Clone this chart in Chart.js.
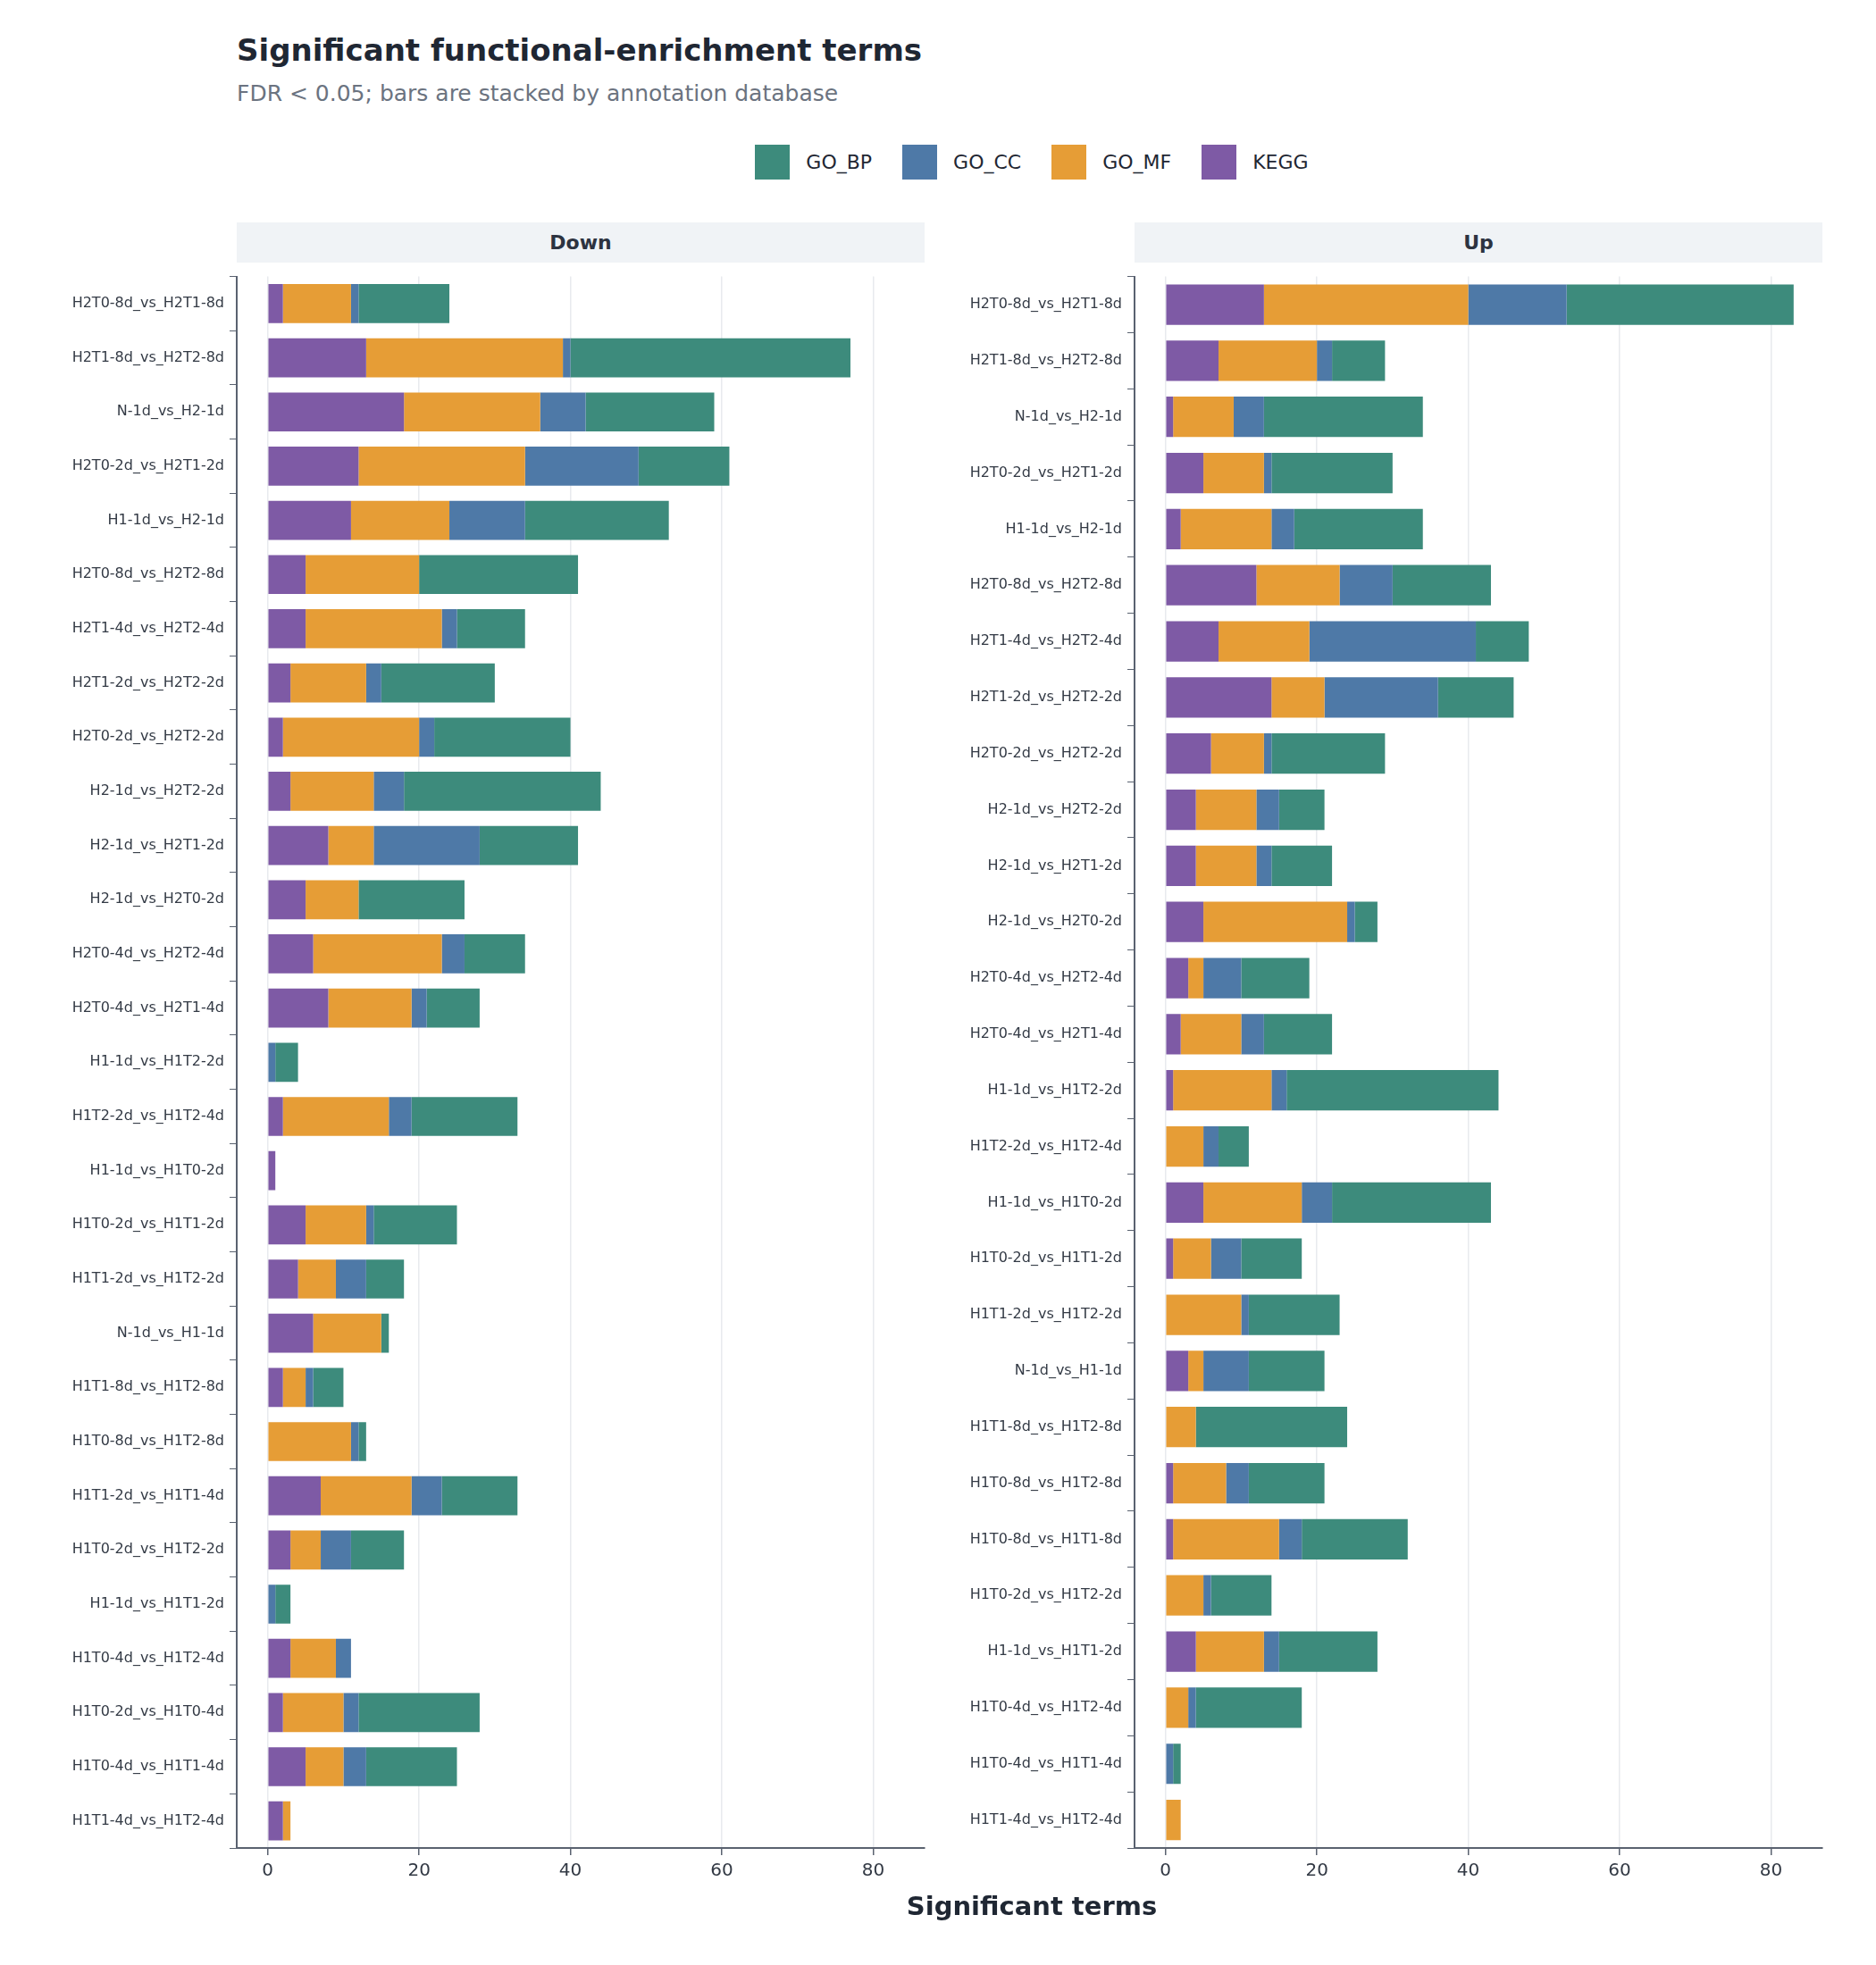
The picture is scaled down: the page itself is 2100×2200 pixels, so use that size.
<!DOCTYPE html>
<html><head><meta charset="utf-8">
<script src="https://cdn.jsdelivr.net/npm/chart.js@4/dist/chart.umd.min.js"></script>
<style>
body{margin:0;background:#fff;font-family:"DejaVu Sans",sans-serif;}
#wrap{position:relative;width:2100px;height:2200px;background:#fff;}
.abs{position:absolute;}
#title{left:265px;top:36px;font-size:34px;font-weight:bold;color:#1f2733;}
#sub{left:265px;top:90px;font-size:25px;color:#6b7380;}
#legend{left:0;width:2310px;top:162px;display:flex;justify-content:center;gap:34px;font-size:22px;color:#1f2733;}
#legend div{display:flex;align-items:center;gap:18px;}
#legend span.sw{display:inline-block;width:39px;height:39px;}
.hdr{top:249px;height:45px;background:#f0f3f6;font-size:22px;font-weight:bold;color:#2d3340;text-align:center;line-height:45px;}
#xt{left:0;width:2310px;text-align:center;top:2117px;font-size:29px;font-weight:bold;color:#1f2733;}
</style></head><body>
<div id="wrap">
<div id="title" class="abs">Significant functional-enrichment terms</div>
<div id="sub" class="abs">FDR &lt; 0.05; bars are stacked by annotation database</div>
<div id="legend" class="abs"></div>
<div class="abs hdr" style="left:265px;width:770px;">Down</div>
<div class="abs hdr" style="left:1270px;width:770px;">Up</div>
<canvas id="cDown" class="abs" width="1040" height="1835" style="left:0;top:294px;"></canvas>
<canvas id="cUp" class="abs" width="1005" height="1835" style="left:1040px;top:294px;"></canvas>
<div id="xt" class="abs">Significant terms</div>
</div>
<script>
const downCats=["H2T0-8d_vs_H2T1-8d","H2T1-8d_vs_H2T2-8d","N-1d_vs_H2-1d","H2T0-2d_vs_H2T1-2d","H1-1d_vs_H2-1d","H2T0-8d_vs_H2T2-8d","H2T1-4d_vs_H2T2-4d","H2T1-2d_vs_H2T2-2d","H2T0-2d_vs_H2T2-2d","H2-1d_vs_H2T2-2d","H2-1d_vs_H2T1-2d","H2-1d_vs_H2T0-2d","H2T0-4d_vs_H2T2-4d","H2T0-4d_vs_H2T1-4d","H1-1d_vs_H1T2-2d","H1T2-2d_vs_H1T2-4d","H1-1d_vs_H1T0-2d","H1T0-2d_vs_H1T1-2d","H1T1-2d_vs_H1T2-2d","N-1d_vs_H1-1d","H1T1-8d_vs_H1T2-8d","H1T0-8d_vs_H1T2-8d","H1T1-2d_vs_H1T1-4d","H1T0-2d_vs_H1T2-2d","H1-1d_vs_H1T1-2d","H1T0-4d_vs_H1T2-4d","H1T0-2d_vs_H1T0-4d","H1T0-4d_vs_H1T1-4d","H1T1-4d_vs_H1T2-4d"];
const downKEGG=[2,13,18,12,11,5,5,3,2,3,8,5,6,8,0,2,1,5,4,6,2,0,7,3,0,3,2,5,2];
const downMF=[9,26,18,22,13,15,18,10,18,11,6,7,17,11,0,14,0,8,5,9,3,11,12,4,0,6,8,5,1];
const downCC=[1,1,6,15,10,0,2,2,2,4,14,0,3,2,1,3,0,1,4,0,1,1,4,4,1,2,2,3,0];
const downBP=[12,37,17,12,19,21,9,15,18,26,13,14,8,7,3,14,0,11,5,1,4,1,10,7,2,0,16,12,0];

const upCats=["H2T0-8d_vs_H2T1-8d","H2T1-8d_vs_H2T2-8d","N-1d_vs_H2-1d","H2T0-2d_vs_H2T1-2d","H1-1d_vs_H2-1d","H2T0-8d_vs_H2T2-8d","H2T1-4d_vs_H2T2-4d","H2T1-2d_vs_H2T2-2d","H2T0-2d_vs_H2T2-2d","H2-1d_vs_H2T2-2d","H2-1d_vs_H2T1-2d","H2-1d_vs_H2T0-2d","H2T0-4d_vs_H2T2-4d","H2T0-4d_vs_H2T1-4d","H1-1d_vs_H1T2-2d","H1T2-2d_vs_H1T2-4d","H1-1d_vs_H1T0-2d","H1T0-2d_vs_H1T1-2d","H1T1-2d_vs_H1T2-2d","N-1d_vs_H1-1d","H1T1-8d_vs_H1T2-8d","H1T0-8d_vs_H1T2-8d","H1T0-8d_vs_H1T1-8d","H1T0-2d_vs_H1T2-2d","H1-1d_vs_H1T1-2d","H1T0-4d_vs_H1T2-4d","H1T0-4d_vs_H1T1-4d","H1T1-4d_vs_H1T2-4d"];
const upKEGG=[13,7,1,5,2,12,7,14,6,4,4,5,3,2,1,0,5,1,0,3,0,1,1,0,4,0,0,0];
const upMF=[27,13,8,8,12,11,12,7,7,8,8,19,2,8,13,5,13,5,10,2,4,7,14,5,9,3,0,2];
const upCC=[13,2,4,1,3,7,22,15,1,3,2,1,5,3,2,2,4,4,1,6,0,3,3,1,2,1,1,0];
const upBP=[30,7,21,16,17,13,7,10,15,6,8,3,9,9,28,4,21,8,12,10,20,10,14,8,13,14,1,0];

const xTicks=[0,20,40,60,80];
const seriesNames=["KEGG","GO_MF","GO_CC","GO_BP"];
const colors={GO_BP:"#3d8b7c",GO_CC:"#4e79a7",GO_MF:"#e69d36",KEGG:"#7e5aa5"};

const lg=document.getElementById('legend');
["GO_BP","GO_CC","GO_MF","KEGG"].forEach(n=>{const d=document.createElement('div');d.innerHTML='<span class="sw" style="background:'+colors[n]+'"></span>'+n;lg.appendChild(d);});

function make(id,cats,vals,yw){
  new Chart(document.getElementById(id),{
    type:'bar',
    data:{labels:cats,datasets:seriesNames.map((n,i)=>({label:n,data:vals[i],backgroundColor:colors[n],barPercentage:0.72,categoryPercentage:1,borderWidth:0}))},
    options:{
      indexAxis:'y',responsive:false,animation:false,devicePixelRatio:1,
      layout:{padding:{left:0,right:5,top:0,bottom:0}},
      plugins:{legend:{display:false},tooltip:{enabled:false}},
      scales:{
        x:{stacked:true,min:-4.1,max:86.8,
          afterBuildTicks:s=>{s.ticks=xTicks.map(v=>({value:v}));},
          afterFit:s=>{s.height=60;},
          grid:{color:'#e8eaee',lineWidth:1.5,tickLength:8,tickColor:'#5a6270'},
          border:{color:'#5a6270',width:2},
          ticks:{font:{family:'DejaVu Sans',size:20},color:'#333a45',padding:6}},
        y:{stacked:true,
          afterFit:s=>{s.width=yw;},
          grid:{drawOnChartArea:false,tickLength:8,color:'#5a6270'},
          border:{color:'#5a6270',width:2},
          ticks:{font:{family:'DejaVu Sans',size:16},color:'#333a45',padding:6,autoSkip:false}}
      }
    }
  });
}
make('cDown',downCats,[downKEGG,downMF,downCC,downBP],265);
make('cUp',upCats,[upKEGG,upMF,upCC,upBP],230);
</script>
</body></html>
